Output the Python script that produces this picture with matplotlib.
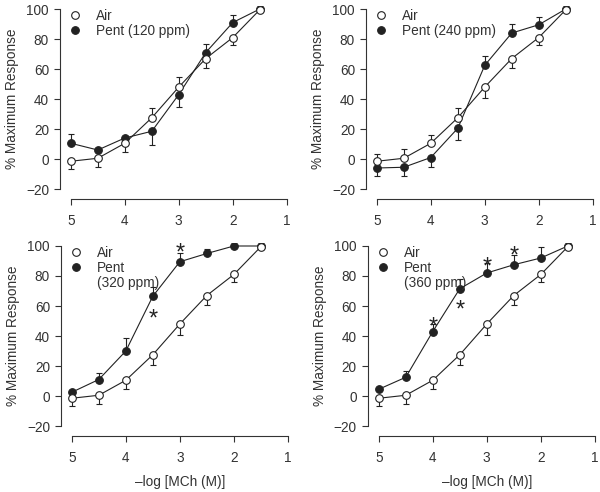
import numpy as np
import matplotlib
matplotlib.use('Agg')
import matplotlib.pyplot as plt
from matplotlib.lines import Line2D
from matplotlib.transforms import blended_transform_factory

plt.rcParams['font.family'] = ['Liberation Sans', 'DejaVu Sans']
fs = 9.8

# -log [MCh] doses
dose = [5, 4.5, 4, 3.5, 3, 2.5, 2, 1.5]

# air control (same in every panel)
air_mean = [-1.5, 0.5, 10.5, 27.5, 48, 67, 81, 99.5]
air_sem = [5, 6, 5.5, 6.5, 7, 6, 5, 0]

# pentane groups
pent_labels = ['Pent (120 ppm)', 'Pent (240 ppm)', 'Pent', 'Pent']
pent_extra = [None, None, '(320 ppm)', '(360 ppm)']
pent_mean = [
    [10.5, 6, 14, 18.5, 43, 71, 91, 100],
    [-6, -5.5, 1, 20.5, 62.5, 84, 89.5, 100],
    [2.5, 11, 30, 66.5, 89.5, 95, 100, 100],
    [4.5, 12.5, 43, 71.5, 82, 87.5, 92, 100],
]
pent_sem = [
    [6.5, 0, 0, 9, 8, 6, 5, 0],
    [5, 6, 6, 8, 6.5, 6, 5.5, 0],
    [0, 4.5, 8.5, 6.5, 6, 3, 0, 0],
    [0, 4, 5, 6.5, 6.5, 6.5, 7, 0],
]
# which side of the mean the error bar is drawn (+1 up, -1 down)
air_side = [
    [-1, -1, -1, 1, 1, -1, -1, 0],
    [1, 1, 1, 1, -1, -1, -1, 0],
    [-1, -1, -1, -1, -1, -1, -1, 0],
    [-1, -1, -1, -1, -1, -1, -1, 0],
]
pent_side = [
    [1, 0, 0, -1, -1, 1, 1, 0],
    [-1, -1, -1, -1, 1, 1, 1, 0],
    [0, 1, 1, 1, 1, 1, 0, 0],
    [0, 1, 1, 1, 1, 1, 1, 0],
]
# significance stars (dose, y centre)
stars = [
    [],
    [],
    [(3, 100.7), (3.5, 57)],
    [(4, 51.5), (3.5, 62.5), (3, 91.5), (2.5, 98.5)],
]

ink = '#222222'
grey = '#333333'

fig = plt.figure(figsize=(6, 4.92), dpi=100)
positions = [
    [0.100, 0.5955, 0.3825, 0.3923],
    [0.610, 0.5955, 0.3825, 0.3923],
    [0.1017, 0.1138, 0.3825, 0.3923],
    [0.6133, 0.1138, 0.3825, 0.3923],
]


def draw_bars(ax, x, y, err, side, z):
    x = np.array(x, float)
    y = np.array(y, float)
    ends = y + np.array(err) * np.array(side)
    keep = (np.array(err) > 0) & (np.array(side) != 0)
    ax.vlines(x[keep], y[keep], ends[keep], color=ink, lw=0.8, zorder=z)
    ax.plot(x[keep], ends[keep], ls='none', marker='_', ms=5, mew=0.8,
            color=ink, zorder=z)


for i, pos in enumerate(positions):
    ax = fig.add_axes(pos)
    ax.set_xlim(5.2, 0.95)
    ax.set_ylim(-26.67, 102)

    draw_bars(ax, dose, pent_mean[i], pent_sem[i], pent_side[i], 2)
    draw_bars(ax, dose, air_mean, air_sem, air_side[i], 4)
    ax.plot(dose, pent_mean[i], color=ink, lw=0.8, marker='o', ms=5.5,
            mfc=ink, mec=ink, mew=0.8, zorder=3)
    ax.plot(dose, air_mean, color=ink, lw=0.8, marker='o', ms=5.5,
            mfc='white', mec=ink, mew=0.8, zorder=5)

    for sx, sy in stars[i]:
        ax.annotate('*', (sx, sy), xytext=(0, -0.62 * 17), textcoords='offset points',
                    ha='center', va='baseline', fontsize=17, color=ink)

    # legend
    handles = [
        Line2D([], [], ls='none', marker='o', ms=5.5, mfc='white', mec=ink, mew=0.8),
        Line2D([], [], ls='none', marker='o', ms=5.5, mfc=ink, mec=ink, mew=0.8),
    ]
    labels = ['Air', pent_labels[i]]
    if pent_extra[i]:
        handles.append(Line2D([], [], ls='none'))
        labels.append(pent_extra[i])
    leg = ax.legend(handles, labels, loc='upper left', bbox_to_anchor=(0.036, 0.987),
                    frameon=False, borderpad=0, borderaxespad=0, handlelength=1.0,
                    handletextpad=1.05, labelspacing=0.1, fontsize=fs)
    for t in leg.get_texts():
        t.set_color(grey)

    for s in ['top', 'right']:
        ax.spines[s].set_visible(False)
    for s in ['left', 'bottom']:
        ax.spines[s].set_color(grey)
        ax.spines[s].set_linewidth(0.8)
    ax.spines['left'].set_bounds(-20, 100)
    ax.spines['bottom'].set_bounds(5, 1)
    ax.set_xticks([5, 4, 3, 2, 1])
    ax.set_yticks([-20, 0, 20, 40, 60, 80, 100])
    ax.tick_params(length=4, width=0.8, color=grey, labelcolor=grey,
                   labelsize=fs)
    ax.tick_params(axis='x', pad=6.5)
    ax.tick_params(axis='y', pad=4)

    ax.set_ylabel('% Maximum Response', color=grey, fontsize=fs)
    ax.yaxis.set_label_coords(-0.18, 40,
                              transform=blended_transform_factory(ax.transAxes, ax.transData))
    if i >= 2:
        ax.set_xlabel('\u2013log [MCh (M)]', color=grey, fontsize=fs)
        ax.xaxis.set_label_coords(3, -0.2,
                                  transform=blended_transform_factory(ax.transData, ax.transAxes))

fig.savefig('out.png', dpi=100)
